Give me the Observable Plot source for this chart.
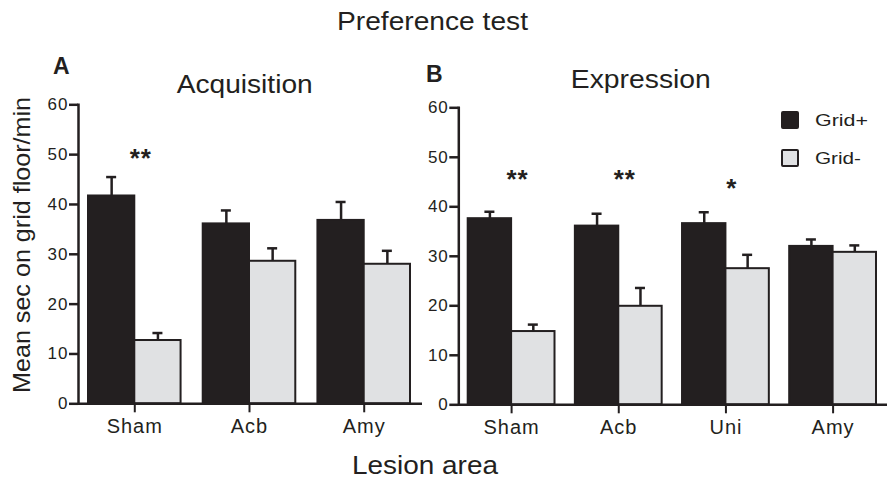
<!DOCTYPE html>
<html><head><meta charset="utf-8">
<script src="https://cdn.jsdelivr.net/npm/d3@7"></script>
<script src="https://cdn.jsdelivr.net/npm/@observablehq/plot@0.6"></script>
<style>
body{margin:0;background:#fff;}
#chart{position:relative;width:893px;height:479px;overflow:hidden;font-family:"Liberation Sans",Arial,sans-serif;color:#231f20;background:#fff}
#chart svg{position:absolute;top:0;}
</style></head><body><div id="chart"></div>
<script>
// ---- data ----
const leftCategories = ["Sham", "Acb", "Amy"];
const leftGridPlus = [41.7, 36.1, 36.8];
const leftGridPlusSem = [3.8, 2.7, 3.7];
const leftGridMinus = [12.7, 28.6, 28.0];
const leftGridMinusSem = [1.5, 2.6, 2.7];
const leftStars = ["**", "", ""];
const leftStarY = [49.6, 0, 0];

const rightCategories = ["Sham", "Acb", "Uni", "Amy"];
const rightGridPlus = [37.6, 36.1, 36.6, 32.0];
const rightGridPlusSem = [1.4, 2.5, 2.3, 1.4];
const rightGridMinus = [14.8, 19.9, 27.5, 30.8];
const rightGridMinusSem = [1.4, 3.7, 2.8, 1.4];
const rightStars = ["**", "**", "*", ""];
const rightStarY = [45.9, 45.9, 44.1, 0];

const yTicks = [0, 10, 20, 30, 40, 50, 60];
const seriesNames = ["Grid+", "Grid-"];

const dark = "#231f20", light = "#e0e1e3";
const font = "'Liberation Sans', Arial, sans-serif";
const chart = document.getElementById("chart");

function panel(cfg) {
  const n = cfg.cats.length, p = cfg.padding;
  const b = (cfg.xRange[1] - cfg.xRange[0]) / (n - p) * (1 - p);
  const plus = cfg.cats.map((c, i) => ({cat: c, value: cfg.plus[i], sem: cfg.plusSem[i]}));
  const minus = cfg.cats.map((c, i) => ({cat: c, value: cfg.minus[i], sem: cfg.minusSem[i]}));
  const stars = cfg.cats.map((c, i) => ({cat: c, t: cfg.stars[i], y: cfg.starY[i]})).filter(d => d.t);
  const capW = 10;
  const svg = Plot.plot({
    width: cfg.width, height: 479,
    marginTop: cfg.mt, marginBottom: cfg.mb, marginLeft: cfg.ml, marginRight: cfg.mr,
    style: {background: "none", color: dark, fontFamily: font, overflow: "visible", letterSpacing: "1px"},
    x: {domain: cfg.cats, range: cfg.xRange, paddingInner: p, paddingOuter: 0, round: false, label: null},
    y: {domain: [0, 60], label: null},
    marks: [
      Plot.barY(plus, {x: "cat", y: "value", fill: dark, stroke: dark, strokeWidth: 2, insetRight: b / 2}),
      Plot.barY(minus, {x: "cat", y: "value", fill: light, stroke: dark, strokeWidth: 2, insetLeft: b / 2}),
      Plot.ruleX(plus, {x: "cat", y1: "value", y2: d => d.value + d.sem, dx: -b / 4, stroke: dark, strokeWidth: 2.5}),
      Plot.ruleX(minus, {x: "cat", y1: "value", y2: d => d.value + d.sem, dx: b / 4, stroke: dark, strokeWidth: 2.5}),
      Plot.tickY(plus, {x: "cat", y: d => d.value + d.sem, insetLeft: b / 4 - capW / 2, insetRight: 3 * b / 4 - capW / 2, stroke: dark, strokeWidth: 2.5}),
      Plot.tickY(minus, {x: "cat", y: d => d.value + d.sem, insetLeft: 3 * b / 4 - capW / 2, insetRight: b / 4 - capW / 2, stroke: dark, strokeWidth: 2.5}),
      Plot.text(stars, {x: "cat", y: "y", text: "t", dx: 6, dy: 2, fontSize: 26, fontWeight: "bold", fill: dark}),
      Plot.ruleY([0], {stroke: dark, strokeWidth: 2.5}),
      Plot.frame({anchor: "left", stroke: dark, strokeWidth: 2.5}),
      Plot.axisY({ticks: yTicks, tickSize: 9, tickPadding: 1, fontSize: 17, strokeWidth: 2.5, label: null}),
      Plot.axisX({tickSize: 9, tickPadding: 6, fontSize: 20, strokeWidth: 2, label: null})
    ]
  });
  svg.style.left = cfg.left + "px";
  chart.appendChild(svg);
}

panel({cats: leftCategories, plus: leftGridPlus, plusSem: leftGridPlusSem, minus: leftGridMinus, minusSem: leftGridMinusSem,
  stars: leftStars, starY: leftStarY, left: 0, width: 424, mt: 104.3, mb: 75.7, ml: 78, mr: 2, xRange: [88, 410], padding: 0.193});

panel({cats: rightCategories, plus: rightGridPlus, plusSem: rightGridPlusSem, minus: rightGridMinus, minusSem: rightGridMinusSem,
  stars: rightStars, starY: rightStarY, left: 418, width: 475, mt: 107.3, mb: 74.7, ml: 40.3, mr: 6, xRange: [49.7, 458], padding: 0.19});

// ---- titles, labels and legend ----
const ov = d3.select(chart).append("svg").attr("width", 893).attr("height", 479)
  .style("left", "0px").style("pointer-events", "none")
  .attr("font-family", font).attr("fill", dark);
function label(x, y, size, txt, len, opts = {}) {
  const t = ov.append("text").attr("x", x).attr("y", y).attr("font-size", size)
    .attr("text-anchor", opts.anchor || "middle").text(txt);
  if (len) t.attr("textLength", len).attr("lengthAdjust", "spacingAndGlyphs");
  if (opts.bold) t.attr("font-weight", "bold");
  if (opts.transform) t.attr("transform", opts.transform);
  return t;
}
label(432.5, 30, 26, "Preference test", 191);
label(53, 74, 23, "A", null, {anchor: "start", bold: true});
label(244.7, 92.7, 25, "Acquisition", 136);
label(426, 82, 23, "B", null, {anchor: "start", bold: true});
label(640.8, 88, 25, "Expression", 140);
label(425, 474, 26, "Lesion area", 146);
label(0, 0, 24, "Mean sec on grid floor/min", 296, {transform: "translate(30,245) rotate(-90)"});
const legendFill = [dark, light];
const legendY = [120, 158];
const legendLen = [53, 46];
seriesNames.forEach((s, i) => {
  ov.append("rect").attr("x", 782).attr("y", legendY[i] - 8).attr("width", 16).attr("height", 16)
    .attr("fill", legendFill[i]).attr("stroke", dark).attr("stroke-width", 2).attr("rx", 1);
  label(815, legendY[i], 17, s, legendLen[i], {anchor: "start"}).attr("dy", "0.35em");
});
</script></body></html>
